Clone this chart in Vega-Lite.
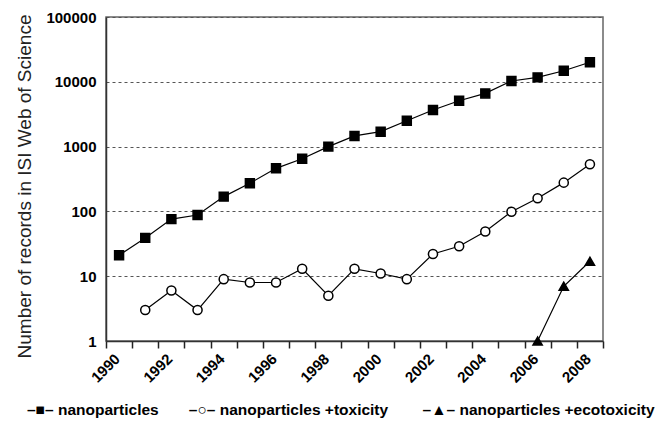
{
  "$schema": "https://vega.github.io/schema/vega-lite/v6.json",
  "width": 497,
  "height": 324,
  "autosize": "none",
  "padding": {"left": 106, "top": 17, "right": 54, "bottom": 81},
  "background": "white",
  "config": {
    "font": "Liberation Sans",
    "view": {"stroke": "#666", "strokeWidth": 1.5}
  },
  "title": {
    "text": "–■–\u00a0nanoparticles\u00a0\u00a0\u00a0\u00a0\u00a0\u00a0\u00a0–○–\u00a0nanoparticles +toxicity\u00a0\u00a0\u00a0\u00a0\u00a0\u00a0\u00a0\u00a0–▲–\u00a0nanoparticles +ecotoxicity",
    "orient": "bottom",
    "anchor": "start",
    "frame": "group",
    "dx": -79,
    "offset": 18,
    "baseline": "top",
    "font": "Liberation Sans",
    "fontSize": 15.5,
    "fontWeight": "bold",
    "color": "black"
  },
  "data": {
    "values": [
      {"year": 1990, "series": "nanoparticles", "value": 21},
      {"year": 1991, "series": "nanoparticles", "value": 39},
      {"year": 1992, "series": "nanoparticles", "value": 76},
      {"year": 1993, "series": "nanoparticles", "value": 88},
      {"year": 1994, "series": "nanoparticles", "value": 169},
      {"year": 1995, "series": "nanoparticles", "value": 272},
      {"year": 1996, "series": "nanoparticles", "value": 462},
      {"year": 1997, "series": "nanoparticles", "value": 650},
      {"year": 1998, "series": "nanoparticles", "value": 1000},
      {"year": 1999, "series": "nanoparticles", "value": 1460},
      {"year": 2000, "series": "nanoparticles", "value": 1700},
      {"year": 2001, "series": "nanoparticles", "value": 2510},
      {"year": 2002, "series": "nanoparticles", "value": 3670},
      {"year": 2003, "series": "nanoparticles", "value": 5100},
      {"year": 2004, "series": "nanoparticles", "value": 6620},
      {"year": 2005, "series": "nanoparticles", "value": 10300},
      {"year": 2006, "series": "nanoparticles", "value": 11700},
      {"year": 2007, "series": "nanoparticles", "value": 14800},
      {"year": 2008, "series": "nanoparticles", "value": 20000},
      {"year": 1991, "series": "nanoparticles +toxicity", "value": 3},
      {"year": 1992, "series": "nanoparticles +toxicity", "value": 6},
      {"year": 1993, "series": "nanoparticles +toxicity", "value": 3},
      {"year": 1994, "series": "nanoparticles +toxicity", "value": 9},
      {"year": 1995, "series": "nanoparticles +toxicity", "value": 8},
      {"year": 1996, "series": "nanoparticles +toxicity", "value": 8},
      {"year": 1997, "series": "nanoparticles +toxicity", "value": 13},
      {"year": 1998, "series": "nanoparticles +toxicity", "value": 5},
      {"year": 1999, "series": "nanoparticles +toxicity", "value": 13},
      {"year": 2000, "series": "nanoparticles +toxicity", "value": 11},
      {"year": 2001, "series": "nanoparticles +toxicity", "value": 9},
      {"year": 2002, "series": "nanoparticles +toxicity", "value": 22},
      {"year": 2003, "series": "nanoparticles +toxicity", "value": 29},
      {"year": 2004, "series": "nanoparticles +toxicity", "value": 49},
      {"year": 2005, "series": "nanoparticles +toxicity", "value": 99},
      {"year": 2006, "series": "nanoparticles +toxicity", "value": 160},
      {"year": 2007, "series": "nanoparticles +toxicity", "value": 278},
      {"year": 2008, "series": "nanoparticles +toxicity", "value": 533},
      {"year": 2006, "series": "nanoparticles +ecotoxicity", "value": 1},
      {"year": 2007, "series": "nanoparticles +ecotoxicity", "value": 7},
      {"year": 2008, "series": "nanoparticles +ecotoxicity", "value": 17}
    ]
  },
  "encoding": {
    "y": {
      "field": "value",
      "type": "quantitative",
      "scale": {"type": "log", "domain": [1, 100000]},
      "axis": {
        "title": "Number of records in ISI Web of Science",
        "titleFont": "Liberation Sans",
        "titleFontSize": 19,
        "titleFontWeight": "normal",
        "titleColor": "#222",
        "titlePadding": 11,
        "titleY": 169,
        "values": [1, 10, 100, 1000, 10000, 100000],
        "format": "d",
        "labelFont": "Liberation Sans",
        "labelFontSize": 15,
        "labelFontWeight": "bold",
        "labelColor": "black",
        "labelPadding": 10,
        "ticks": false,
        "domainColor": "#333",
        "domainWidth": 1.5,
        "grid": true,
        "gridDash": [3, 3],
        "gridColor": "#555",
        "gridWidth": 1
      }
    }
  },
  "layer": [
    {
      "mark": {"type": "line", "color": "black", "strokeWidth": 1.2},
      "encoding": {
        "x": {
          "field": "year",
          "type": "quantitative",
          "scale": {"domain": [1989.5, 2008.5], "nice": false, "zero": false},
          "axis": {
            "orient": "bottom",
            "title": null,
            "values": [1990, 2000],
            "labels": false,
            "ticks": false,
            "domainColor": "#333",
            "domainWidth": 1.5,
            "grid": false
          }
        },
        "detail": {"field": "series", "type": "nominal"}
      }
    },
    {
      "mark": {"type": "point", "stroke": "black", "strokeWidth": 1.5, "opacity": 1},
      "encoding": {
        "x": {
          "field": "year",
          "type": "quantitative",
          "scale": {"domain": [1989.5, 2008.5], "nice": false, "zero": false},
          "axis": {
            "orient": "bottom",
            "title": null,
            "values": [1989.5, 1990.5, 1991.5, 1992.5, 1993.5, 1994.5, 1995.5, 1996.5, 1997.5, 1998.5, 1999.5, 2000.5, 2001.5, 2002.5, 2003.5, 2004.5, 2005.5, 2006.5, 2007.5, 2008.5],
            "labelExpr": "(datum.value + 0.5) % 2 == 0 ? '' + (datum.value + 0.5) : ''",
            "labelAngle": -45,
            "labelAlign": "right",
            "labelBaseline": "top",
            "labelOffset": 6,
            "labelFont": "Liberation Sans",
            "labelFontSize": 15,
            "labelFontWeight": "bold",
            "labelColor": "black",
            "labelPadding": 3,
            "labelOverlap": false,
            "ticks": true,
            "tickSize": 7,
            "tickColor": "#222",
            "tickWidth": 1.5,
            "domain": false,
            "grid": false
          }
        },
        "shape": {
          "field": "series",
          "type": "nominal",
          "scale": {
            "domain": ["nanoparticles", "nanoparticles +toxicity", "nanoparticles +ecotoxicity"],
            "range": ["square", "circle", "triangle-up"]
          },
          "legend": null
        },
        "fill": {
          "field": "series",
          "type": "nominal",
          "scale": {
            "domain": ["nanoparticles", "nanoparticles +toxicity", "nanoparticles +ecotoxicity"],
            "range": ["black", "white", "black"]
          },
          "legend": null
        },
        "size": {
          "field": "series",
          "type": "nominal",
          "scale": {
            "domain": ["nanoparticles", "nanoparticles +toxicity", "nanoparticles +ecotoxicity"],
            "range": [80, 85, 220]
          },
          "legend": null
        }
      }
    }
  ],
  "resolve": {"scale": {"x": "independent"}, "axis": {"x": "independent"}}
}
